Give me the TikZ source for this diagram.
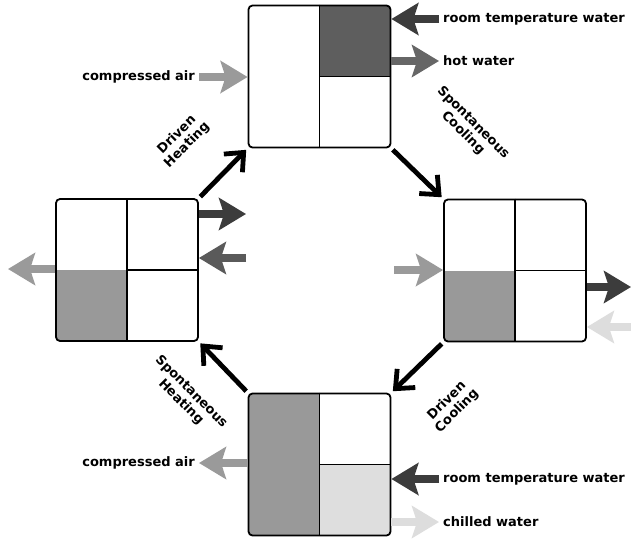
\documentclass[tikz,border=0pt]{standalone}
\usepackage{fontspec}
\setmainfont{DejaVu Sans}
\usetikzlibrary{arrows.meta}
\definecolor{hotfill}{HTML}{5E5E5E}
\definecolor{warmfill}{HTML}{999999}
\definecolor{coldfill}{HTML}{DEDEDE}
\definecolor{darkflow}{HTML}{3C3C3C}
\definecolor{hotflow}{HTML}{666666}
\definecolor{midflow}{HTML}{5A5A5A}
\definecolor{airflow}{HTML}{9A9A9A}
\definecolor{coldflow}{HTML}{DDDDDD}
\begin{document}
\begin{tikzpicture}[x=1pt,y=-1pt,
  tank/.style={draw, rectangle, rounded corners=4pt, line width=1.8pt, minimum size=142pt, inner sep=0pt},
  wall/.style={line width=1.6pt},
  flow/.style={line width=8pt, -{Stealth[length=27pt,width=32pt,inset=5pt]}},
  turn/.style={line width=4.8pt, -{Straight Barb[length=15pt,width=26pt]}, shorten <=2pt, shorten >=2pt},
  lbl/.style={font=\bfseries\fontsize{13}{15}\selectfont, inner sep=4pt},
  phase/.style={font=\bfseries\fontsize{13}{14.5}\selectfont, align=center, inner sep=1pt}]
\useasboundingbox[fill=white] (0,0) rectangle (631,538);

% the four tanks
\node[tank, path picture={\fill[hotfill, sharp corners] (path picture bounding box.center) rectangle (path picture bounding box.north east);}] (top) at (319.5,76.5) {};
\node[tank, path picture={\fill[warmfill, sharp corners] (path picture bounding box.west) rectangle (path picture bounding box.south);}] (left) at (127,270) {};
\node[tank, path picture={\fill[warmfill, sharp corners] (path picture bounding box.west) rectangle (path picture bounding box.south);}] (right) at (515,270.5) {};
\node[tank, path picture={\fill[warmfill, sharp corners] (path picture bounding box.north west) rectangle (path picture bounding box.south);
  \fill[coldfill, sharp corners] (path picture bounding box.center) rectangle (path picture bounding box.south east);}] (bottom) at (319.5,464.5) {};
\foreach \t in {top,left,right,bottom} {
  \draw[wall] (\t.north) -- (\t.south);
  \draw[wall] (\t.center) -- (\t.east);
}

% labels
\node[lbl, anchor=west] (rtwtop) at (439,19) {room temperature water};
\node[lbl, anchor=west] (hot) at (439,61) {hot water};
\node[lbl, anchor=east] (airtop) at (199,77) {compressed air};
\node[lbl, anchor=east] (airbot) at (199,463) {compressed air};
\node[lbl, anchor=west] (rtwbot) at (439,479) {room temperature water};
\node[lbl, anchor=west] (cold) at (439,522) {chilled water};

% loose ends
\coordinate (lout1) at (246,214);
\coordinate (lin) at (246,258);
\coordinate (lout2) at (8,269);
\coordinate (rin1) at (394,270);
\coordinate (rout) at (631,287);
\coordinate (rin2) at (631,327);

% flows in and out
\draw[flow, airflow] (airtop) -- (airtop -| top.west);
\draw[flow, darkflow] (rtwtop) -- (rtwtop -| top.east);
\draw[flow, hotflow] (top.east |- hot) -- (hot);
\draw[flow, darkflow] (left.east |- lout1) -- (lout1);
\draw[flow, midflow] (lin) -- (lin -| left.east);
\draw[flow, airflow] (left.west |- lout2) -- (lout2);
\draw[flow, airflow] (rin1) -- (rin1 -| right.west);
\draw[flow, darkflow] (right.east |- rout) -- (rout);
\draw[flow, coldflow] (rin2) -- (rin2 -| right.east);
\draw[flow, airflow] (bottom.west |- airbot) -- (airbot);
\draw[flow, darkflow] (rtwbot) -- (rtwbot -| bottom.east);
\draw[flow, coldflow] (bottom.east |- cold) -- (cold);

% the cycle
\draw[turn] (left.north east) -- (top.south west);
\draw[turn] (top.south east) -- (right.north west);
\draw[turn] (right.south west) -- (bottom.north east);
\draw[turn] (bottom.north west) -- (left.south east);
\node[phase, rotate=45] (dh) at (182,140) {Driven\\Heating};
\node[phase, rotate=-45] (sc) at (468,128) {Spontaneous\\Cooling};
\node[phase, rotate=-45] (sh) at (186,397) {Spontaneous\\Heating};
\node[phase, rotate=45] (dc) at (452,406) {Driven\\Cooling};
\end{tikzpicture}
\end{document}
